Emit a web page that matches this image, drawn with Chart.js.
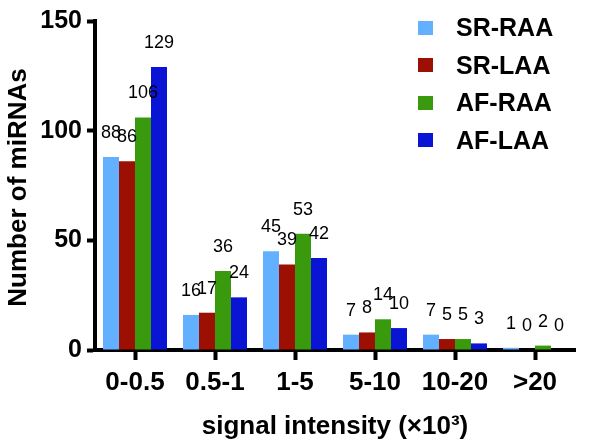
<!DOCTYPE html>
<html>
<head>
<meta charset="utf-8">
<script src="https://cdn.jsdelivr.net/npm/chart.js@4.4.1/dist/chart.umd.min.js"></script>
<style>
  body { margin: 0; background: #fff; }
  #wrap { position: relative; width: 600px; height: 448px; }
  #legend { position: absolute; left: 418px; top: 9px; font-family: 'Liberation Sans', Arial, sans-serif; font-weight: bold; font-size: 25px; }
  #legend div { height: 37.5px; display: flex; align-items: center; }
  #legend span.box { display: inline-block; width: 15px; height: 14px; margin-right: 23px; }
</style>
</head>
<body>
<div id="wrap">
  <canvas id="grafico" width="600" height="448"></canvas>
  <div id="legend"></div>
</div>
<script>
const categorias = ['0-0.5', '0.5-1', '1-5', '5-10', '10-20', '>20'];
const nomesSeries = ['SR-RAA', 'SR-LAA', 'AF-RAA', 'AF-LAA'];
const srRAA = [88, 16, 45, 7, 7, 1];
const srLAA = [86, 17, 39, 8, 5, 0];
const afRAA = [106, 36, 53, 14, 5, 2];
const afLAA = [129, 24, 42, 10, 3, 0];
const ticksY = [0, 50, 100, 150];
const cores = ['#62B0FF', '#9B1002', '#3A9A0E', '#0A14D4'];

const fonte = "'Liberation Sans', Arial, sans-serif";

const valoresSeries = [srRAA, srLAA, afRAA, afLAA];
const datasets = valoresSeries.map(function(valores, i) {
  return {
    label: nomesSeries[i],
    data: valores,
    backgroundColor: cores[i],
    borderWidth: 0,
    categoryPercentage: 0.8,
    barPercentage: 1.0
  };
});

// numeros em cima das barras
const rotulosBarras = {
  id: 'rotulosBarras',
  afterDatasetsDraw(chart) {
    const ctx = chart.ctx;
    ctx.save();
    ctx.font = '18px ' + fonte;
    ctx.fillStyle = '#000';
    ctx.textAlign = 'center';
    ctx.textBaseline = 'bottom';
    chart.data.datasets.forEach(function(ds, i) {
      const meta = chart.getDatasetMeta(i);
      meta.data.forEach(function(bar, j) {
        ctx.fillText(String(ds.data[j]), bar.x, bar.y - 15);
      });
    });
    ctx.restore();
  }
};

// titulo do eixo y
const tituloY = {
  id: 'tituloY',
  afterDraw(chart) {
    const ctx = chart.ctx;
    const area = chart.chartArea;
    ctx.save();
    ctx.translate(19, (area.top + area.bottom) / 2 + 2);
    ctx.rotate(-Math.PI / 2);
    ctx.font = 'bold 26px ' + fonte;
    ctx.fillStyle = '#000';
    ctx.textAlign = 'center';
    ctx.textBaseline = 'middle';
    ctx.fillText('Number of miRNAs', 0, 0);
    ctx.restore();
  }
};

const ctx = document.getElementById('grafico').getContext('2d');
new Chart(ctx, {
  type: 'bar',
  data: { labels: categorias, datasets: datasets },
  plugins: [rotulosBarras, tituloY],
  options: {
    responsive: false,
    animation: false,
    layout: { padding: { top: 21, right: 25, left: 0, bottom: 0 } },
    plugins: { legend: { display: false }, tooltip: { enabled: false } },
    scales: {
      x: {
        grid: { display: true, drawOnChartArea: false, offset: false, tickLength: 10, tickColor: '#000', tickWidth: 4 },
        border: { color: '#000', width: 4 },
        ticks: { color: '#000', font: { family: fonte, size: 26, weight: 'bold' }, padding: 7 },
        title: { display: true, text: 'signal intensity (×10³)', color: '#000', font: { family: fonte, size: 26, weight: 'bold' }, padding: { top: 0, bottom: 6 } },
        afterFit: function(scale) { scale.height = 98; }
      },
      y: {
        min: 0,
        max: 150,
        afterBuildTicks: function(scale) { scale.ticks = ticksY.map(v => ({ value: v })); },
        grid: { display: true, drawOnChartArea: false, tickLength: 8, tickColor: '#000', tickWidth: 4 },
        border: { color: '#000', width: 4 },
        ticks: { color: '#000', font: { family: fonte, size: 25, weight: 'bold' }, padding: 5 },
        afterFit: function(scale) { scale.width = 95; }
      }
    }
  }
});

const legenda = document.getElementById('legend');
nomesSeries.forEach(function(nome, i) {
  const linha = document.createElement('div');
  const caixa = document.createElement('span');
  caixa.className = 'box';
  caixa.style.background = cores[i];
  linha.appendChild(caixa);
  linha.appendChild(document.createTextNode(nome));
  legenda.appendChild(linha);
});
</script>
</body>
</html>
